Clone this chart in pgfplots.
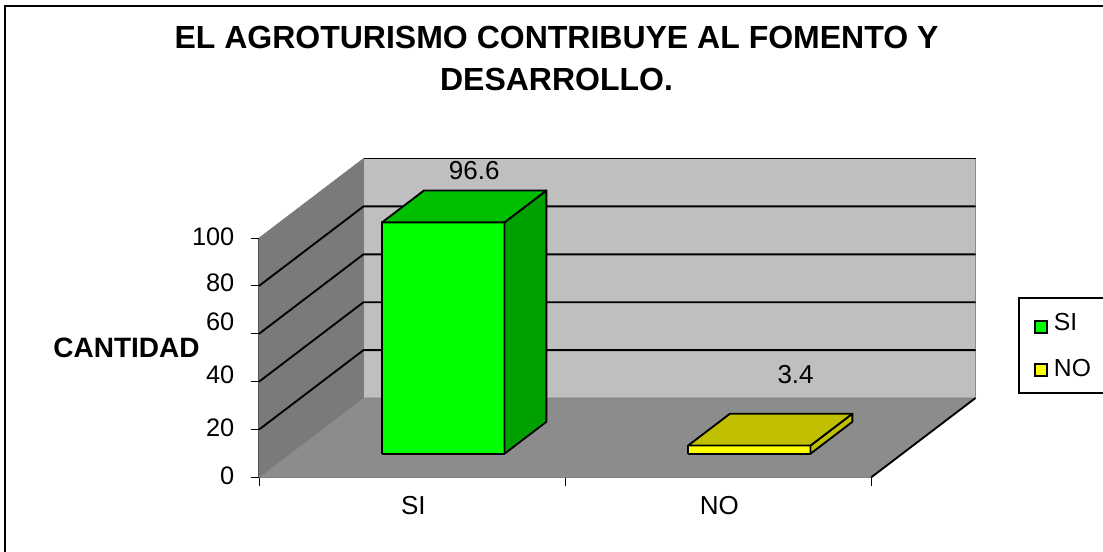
\documentclass[border=0pt]{standalone}
\usepackage{pgfplots}
\pgfplotsset{compat=1.18}
\usepackage{fontspec}
\setmainfont{Liberation Sans}
% 1 px of the reference = 0.75pt
\newcommand\zl[2]{\smash{\raisebox{#1}{#2}}}
\begin{document}
\begin{tikzpicture}[x=0.75pt,y=-0.75pt]
\path[use as bounding box] (0,0) rectangle (1103,552);
\draw[line width=1.5pt] (5,552) -- (5,6) -- (1103,6);
\node[font=\bfseries\fontsize{24}{31.5}\selectfont,align=center] at (556.5,58) {EL AGROTURISMO CONTRIBUYE AL FOMENTO Y\\DESARROLLO.};
\node[font=\bfseries\fontsize{21}{25}\selectfont] at (126.5,348) {CANTIDAD};
\coordinate (o) at (259,477.5);
\begin{axis}[
    at={(o)}, anchor=origin,
    x={(229.5pt,0pt)}, y={(78.375pt,59.625pt)}, z={(0pt,1.796pt)},
    xmin=0, xmax=2, ymin=0, ymax=1, zmin=0, zmax=100,
    clip=false,
    /pgf/number format/assume math mode=true,
    axis lines=left,
    axis line style={-, black, line width=1.4pt},
    y axis line style={draw=none},
    z axis line style={black!75},
    ytick=\empty,
    ztick={0,20,40,60,80,100},
    zticklabels={\zl{-5.25pt}{0},\zl{-5.25pt}{20},\zl{-1.5pt}{40},\zl{2.25pt}{60},\zl{-4.5pt}{80},\zl{-5.25pt}{100}},
    xtick={0.5,1.5}, xticklabels={SI,NO},
    major tick length=0pt,
    tick label style={font=\fontsize{19}{22}\selectfont},
    zticklabel style={anchor=east, xshift=-15pt},
    xticklabel style={anchor=center, yshift=-21pt, xshift=1pt, font=\fontsize{19.5}{22}\selectfont},
    legend style={at={(axis description cs:1.0593,0.565)}, anchor=north west,
        draw=black, line width=1.5pt, font=\fontsize{18.5}{22}\selectfont,
        row sep=16pt, inner xsep=11pt, inner ysep=9pt},
    legend cell align=left,
    legend image code/.code={\path[draw=none] (0pt,0pt) -- (12.5pt,0pt);
        \draw[#1, line width=1.5pt] (0pt,-4.5pt) rectangle (9pt,4.5pt);},
]
% walls and floor
\addplot3[forget plot, fill=black!25, draw=black!45] coordinates {(0,1,0)(2,1,0)(2,1,100)(0,1,100)(0,1,0)};
\addplot3[forget plot, fill=black!52, draw=black!52] coordinates {(0,0,0)(0,1,0)(0,1,100)(0,0,100)(0,0,0)};
\addplot3[forget plot, fill=black!45, draw=black!50] coordinates {(0,0,0)(2,0,0)(2,1,0)(0,1,0)(0,0,0)};
\addplot3[forget plot, black, line width=1.4pt] coordinates {(2,0,0)(2,1,0)};
% gridlines
\pgfplotsinvokeforeach{20,40,60,80}{
  \addplot3[forget plot, black, line width=1.4pt] coordinates {(0,0,#1)(0,1,#1)(2,1,#1)};
}
\addplot3[forget plot, black, line width=1.4pt] coordinates {(0,1,100)(2,1,100)};
% tick marks
\pgfplotsinvokeforeach{0,20,40,60,80,100}{
  \addplot3[forget plot, black, line width=0.75pt] coordinates {(-0.026,0,#1)(0,0,#1)};
}
\pgfplotsinvokeforeach{0,1,2}{
  \addplot3[forget plot, black, line width=0.75pt] coordinates {(#1,0,0)(#1,0,-3.4)};
}
% SI bar
\addplot3[forget plot, fill={rgb,255:red,0;green,255;blue,0}, draw=black, line width=1.4pt, line join=round] coordinates {(0.3,0.3,0)(0.7,0.3,0)(0.7,0.3,96.6)(0.3,0.3,96.6)(0.3,0.3,0)};
\addplot3[forget plot, fill={rgb,255:red,0;green,160;blue,0}, draw=black, line width=1.4pt, line join=round] coordinates {(0.7,0.3,0)(0.7,0.7,0)(0.7,0.7,96.6)(0.7,0.3,96.6)(0.7,0.3,0)};
\addplot3[forget plot, fill={rgb,255:red,0;green,190;blue,0}, draw=black, line width=1.4pt, line join=round] coordinates {(0.3,0.3,96.6)(0.7,0.3,96.6)(0.7,0.7,96.6)(0.3,0.7,96.6)(0.3,0.3,96.6)};
% NO bar
\addplot3[forget plot, fill={rgb,255:red,255;green,255;blue,0}, draw=black, line width=1.4pt, line join=round] coordinates {(1.3,0.3,0)(1.7,0.3,0)(1.7,0.3,3.4)(1.3,0.3,3.4)(1.3,0.3,0)};
\addplot3[forget plot, fill={rgb,255:red,192;green,192;blue,0}, draw=black, line width=1.4pt, line join=round] coordinates {(1.7,0.3,0)(1.7,0.7,0)(1.7,0.7,3.4)(1.7,0.3,3.4)(1.7,0.3,0)};
\addplot3[forget plot, fill={rgb,255:red,192;green,192;blue,0}, draw=black, line width=1.4pt, line join=round] coordinates {(1.3,0.3,3.4)(1.7,0.3,3.4)(1.7,0.7,3.4)(1.3,0.7,3.4)(1.3,0.3,3.4)};
% value labels
\addplot3[forget plot, draw=none, mark=none, nodes near coords, point meta=z,
    every node near coord/.style={anchor=center, font=\fontsize{19.5}{22}\selectfont, xshift=7.5pt, yshift=27pt}]
    coordinates {(0.5,0.5,96.6)};
\addplot3[forget plot, draw=none, mark=none, nodes near coords, point meta=z,
    every node near coord/.style={anchor=center, font=\fontsize{19.5}{22}\selectfont, xshift=19pt, yshift=41pt}]
    coordinates {(1.5,0.5,3.4)};
\addlegendimage{fill={rgb,255:red,0;green,255;blue,0}, draw=black, yshift=-3pt}
\addlegendentry{SI}
\addlegendimage{fill={rgb,255:red,255;green,255;blue,0}, draw=black, yshift=-1pt}
\addlegendentry{NO}
\end{axis}
\end{tikzpicture}
\end{document}
